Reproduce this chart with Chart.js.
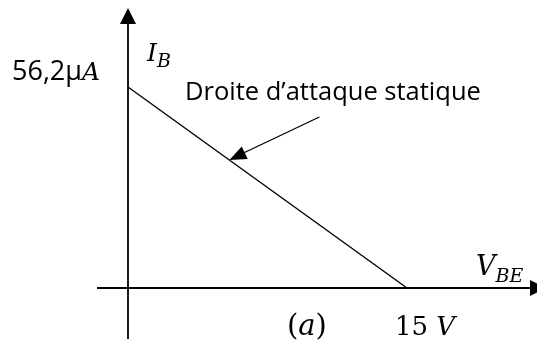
<!DOCTYPE html>
<html>
<head>
<meta charset="utf-8">
<script src="https://cdn.jsdelivr.net/npm/chart.js@4/dist/chart.umd.min.js"></script>
<style>
  html, body { margin: 0; padding: 0; background: #fff; }
  #wrap { width: 537px; height: 347px; }
</style>
</head>
<body>
<div id="wrap"><canvas id="c"></canvas></div>
<script>
// Static input load line of the transistor: I_B versus V_BE
const vbeValues = [0, 15];          // V
const ibValues = [56.2, 0];         // µA
const yTickText = ['56,2μ', 'A'];   // intercept on the I_B axis
const xTickText = ['15 ', 'V'];     // intercept on the V_BE axis
const yAxisTitle = ['I', 'B'];
const xAxisTitle = ['V', 'BE'];
const lineLabel = 'Droite d’attaque statique';
const captionText = ['(', 'a', ')'];
const pointerVbe = [5.45];          // where the label's arrow meets the line

const SANS = '"Open Sans", sans-serif';
const MATH = '"DejaVu Serif", serif';

function arrowHead(ctx, tipX, tipY, fromX, fromY, len, half) {
  const a = Math.atan2(tipY - fromY, tipX - fromX);
  const bx = tipX - len * Math.cos(a), by = tipY - len * Math.sin(a);
  ctx.beginPath();
  ctx.moveTo(tipX, tipY);
  ctx.lineTo(bx + half * Math.sin(a), by - half * Math.cos(a));
  ctx.lineTo(bx - half * Math.sin(a), by + half * Math.cos(a));
  ctx.closePath();
  ctx.fill();
}

// text pieces drawn one after another: [text, font, baseline shift]
function drawRun(ctx, parts, x, y) {
  let cx = x;
  for (const [t, f, dy] of parts) {
    ctx.font = f;
    ctx.fillText(t, cx, y + dy);
    cx += ctx.measureText(t).width;
  }
  return cx;
}

const axesPlugin = {
  id: 'axesPlugin',
  afterDraw(chart) {
    const { ctx, scales: { x, y } } = chart;
    const x0 = x.getPixelForValue(0);
    const y0 = y.getPixelForValue(0);
    ctx.save();
    ctx.strokeStyle = '#000';
    ctx.fillStyle = '#000';
    ctx.lineWidth = 1.8;

    // vertical axis with arrow
    ctx.beginPath();
    ctx.moveTo(x0, y0 + 51);
    ctx.lineTo(x0, 20);
    ctx.stroke();
    arrowHead(ctx, x0, 8, x0, 30, 16, 8);

    // horizontal axis with arrow
    ctx.beginPath();
    ctx.moveTo(x0 - 31, y0);
    ctx.lineTo(chart.width, y0);
    ctx.stroke();
    arrowHead(ctx, chart.width + 9, y0, chart.width - 20, y0, 16, 8);

    // pointer from the label to the load line
    const px = x.getPixelForValue(pointerVbe[0]);
    const py = y.getPixelForValue(ibValues[0] * (1 - pointerVbe[0] / vbeValues[1]));
    const tailX = px + 90, tailY = py - 43;
    ctx.lineWidth = 1.3;
    ctx.beginPath();
    ctx.moveTo(tailX, tailY);
    ctx.lineTo(px + 12, py - 6);
    ctx.stroke();
    arrowHead(ctx, px, py, tailX, tailY, 17, 7);

    ctx.textBaseline = 'alphabetic';
    ctx.textAlign = 'left';

    // I_B intercept
    const yTop = y.getPixelForValue(ibValues[0]);
    drawRun(ctx, [[yTickText[0], '27px ' + SANS, 0], [yTickText[1], 'italic 25px ' + MATH, 0]], 12, yTop - 7);

    // axis titles
    drawRun(ctx, [[yAxisTitle[0], 'italic 25px ' + MATH, 0], [yAxisTitle[1], 'italic 19px ' + MATH, 6]], x0 + 19, 61);
    drawRun(ctx, [[xAxisTitle[0], 'italic 27px ' + MATH, 0], [xAxisTitle[1], 'italic 19px ' + MATH, 7]], 476, y0 - 13);

    // V_BE intercept and caption
    const xEnd = x.getPixelForValue(vbeValues[1]);
    drawRun(ctx, [[xTickText[0], '26px ' + MATH, 0], [xTickText[1], 'italic 26px ' + MATH, 0]], xEnd - 12, y0 + 47);
    drawRun(ctx, [[captionText[0], '29px ' + MATH, 0], [captionText[1], 'italic 29px ' + MATH, 0], [captionText[2], '29px ' + MATH, 0]], 287, y0 + 47);

    // load line label
    ctx.font = '25.5px ' + SANS;
    ctx.fillText(lineLabel, 185, 100);

    ctx.restore();
  }
};

new Chart(document.getElementById('c'), {
  type: 'scatter',
  data: {
    datasets: [{
      data: vbeValues.map((v, i) => ({ x: v, y: ibValues[i] })),
      showLine: true,
      borderColor: '#000',
      borderWidth: 1.4,
      pointRadius: 0,
      clip: false
    }]
  },
  options: {
    responsive: true,
    maintainAspectRatio: false,
    animation: false,
    layout: { padding: { left: 128, right: 130, top: 87, bottom: 59 } },
    plugins: { legend: { display: false }, tooltip: { enabled: false } },
    scales: {
      x: { type: 'linear', min: 0, max: 15, display: false },
      y: { type: 'linear', min: 0, max: 56.2, display: false }
    }
  },
  plugins: [axesPlugin]
});
</script>
</body>
</html>
